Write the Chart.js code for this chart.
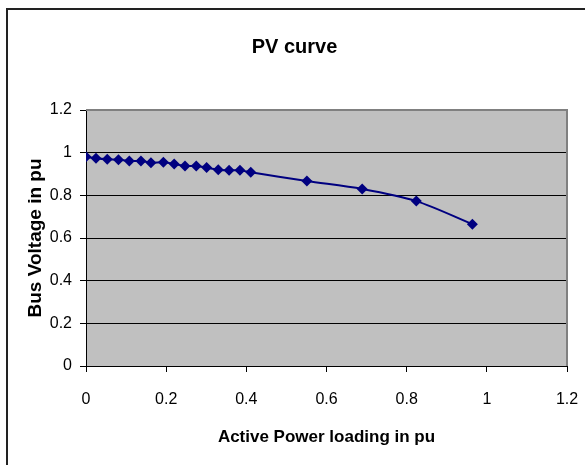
<!DOCTYPE html>
<html><head><meta charset="utf-8">
<script src="https://cdn.jsdelivr.net/npm/chart.js@4"></script>
<style>
html,body{margin:0;padding:0;background:#fff;overflow:hidden;}
#frame{position:absolute;left:6px;top:8px;width:700px;height:600px;border:2px solid #222;box-sizing:border-box;}
#wrap{position:absolute;left:0;top:0;width:585px;height:465px;}
</style></head><body>
<div id="frame"></div>
<div id="wrap"><canvas id="c" width="585" height="465"></canvas></div>
<script>
const chartTitle = 'PV curve';
const xAxisTitle = 'Active Power loading in pu';
const yAxisTitle = 'Bus Voltage in pu';
const activePower = [0, 0.025, 0.053, 0.081, 0.108, 0.137, 0.162, 0.193, 0.22, 0.247, 0.275, 0.301, 0.33, 0.357, 0.384, 0.411, 0.551, 0.689, 0.824, 0.964];
const busVoltage = [0.981, 0.974, 0.969, 0.967, 0.961, 0.961, 0.953, 0.955, 0.947, 0.938, 0.938, 0.930, 0.920, 0.917, 0.917, 0.908, 0.867, 0.830, 0.773, 0.665];
const xTickLabels = ['0','0.2','0.4','0.6','0.8','1','1.2'];
const yTickLabels = ['0','0.2','0.4','0.6','0.8','1','1.2'];

const points = activePower.map((x, i) => ({x: x, y: busVoltage[i]}));

const plotBg = {
  id: 'plotBg',
  beforeDraw(chart) {
    const {ctx, chartArea: a} = chart;
    ctx.save();
    ctx.fillStyle = '#C0C0C0';
    ctx.fillRect(a.left, a.top, a.right - a.left, a.bottom - a.top);
    ctx.restore();
  },
  beforeDatasetsDraw(chart) {
    const {ctx, chartArea: a} = chart;
    ctx.save();
    ctx.strokeStyle = '#808080';
    ctx.lineWidth = 2;
    ctx.beginPath();
    ctx.moveTo(a.left, a.top);
    ctx.lineTo(a.right, a.top);
    ctx.lineTo(a.right, a.bottom);
    ctx.stroke();
    ctx.restore();
  }
};

Chart.defaults.font.family = '"Liberation Sans", Arial, sans-serif';
Chart.defaults.color = '#000';

new Chart(document.getElementById('c'), {
  type: 'line',
  data: {
    datasets: [{
      data: points,
      borderColor: '#000080',
      backgroundColor: '#000080',
      borderWidth: 2,
      pointStyle: 'rectRot',
      pointRadius: 5.5,
      pointBorderWidth: 0,
      tension: 0.3
    }]
  },
  options: {
    responsive: false,
    animation: false,
    devicePixelRatio: 1,
    layout: {padding: {left: 22, right: 18, top: 0, bottom: 0}},
    plugins: {
      legend: {display: false},
      tooltip: {enabled: false},
      title: {
        display: true,
        text: chartTitle,
        color: '#000',
        font: {size: 20, weight: 'bold'},
        padding: {top: 35, bottom: 51}
      }
    },
    scales: {
      x: {
        type: 'linear',
        min: 0, max: 1.2,
        ticks: {
          stepSize: 0.2,
          callback: (v, i) => xTickLabels[i],
          font: {size: 16},
          color: '#000',
          padding: 18,
          maxRotation: 0
        },
        grid: {drawOnChartArea: false, drawTicks: true, tickLength: 6, color: '#000'},
        border: {color: '#000', width: 1},
        title: {display: true, text: xAxisTitle, color: '#000', font: {size: 17, weight: 'bold'}, padding: {top: 0, bottom: 17}},
        afterFit: s => { s.height = 99; s.paddingLeft = 0; s.paddingRight = 0; }
      },
      y: {
        type: 'linear',
        min: 0, max: 1.2,
        ticks: {
          stepSize: 0.2,
          callback: (v, i) => yTickLabels[i],
          font: {size: 16},
          color: '#000',
          padding: 8
        },
        grid: {color: '#000', tickLength: 6, drawTicks: true},
        border: {color: '#000', width: 1},
        title: {display: true, text: yAxisTitle, color: '#000', font: {size: 19, weight: 'bold'}, padding: {top: 2, bottom: 0}},
        afterFit: s => { s.width = 64; }
      }
    }
  },
  plugins: [plotBg]
});
</script>
</body></html>
